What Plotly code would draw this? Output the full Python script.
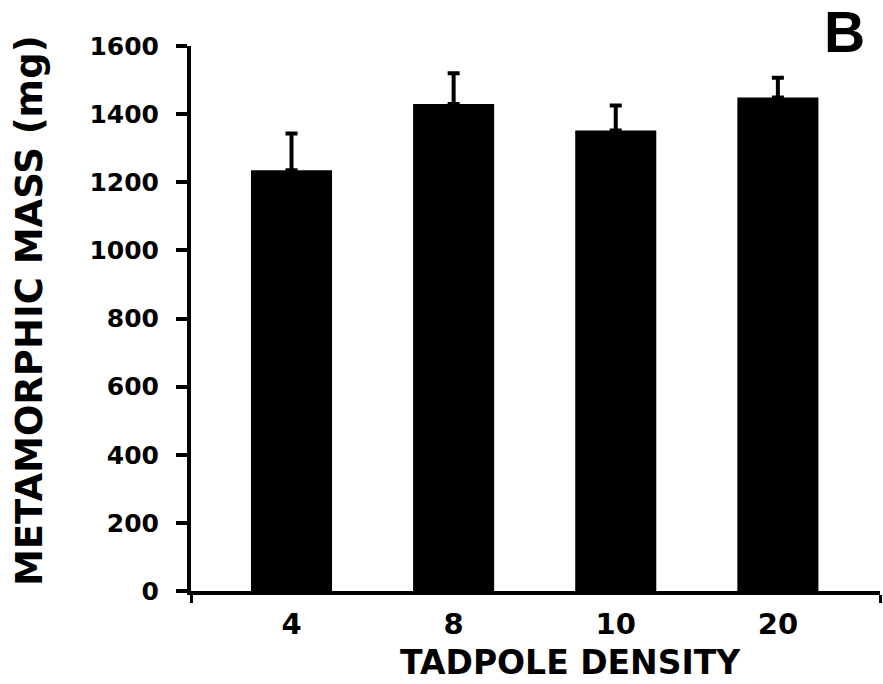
import plotly.graph_objects as go

categories = ["4", "8", "10", "20"]
mass = [1235, 1430, 1352, 1449]
err_up = [108, 90, 73, 58]

positions = list(range(len(categories)))

fig = go.Figure()
fig.add_trace(go.Bar(
    x=positions, y=mass, width=0.5,
    marker=dict(color="black", line=dict(width=0)),
    error_y=dict(type="data", array=err_up, arrayminus=[0]*len(err_up),
                 symmetric=False, color="black", thickness=4, width=6),
))

font = "DejaVu Sans"
xr = [-0.62, 3.63]
fig.update_layout(
    width=883, height=684,
    margin=dict(l=191, r=3, t=46, b=93),
    plot_bgcolor="white", paper_bgcolor="white",
    showlegend=False,
    bargap=0.5,
    xaxis=dict(
        range=xr, tickvals=positions, ticktext=categories,
        showline=True, linecolor="black", linewidth=4,
        ticks="", showgrid=False, zeroline=False,
        tickfont=dict(family=font, size=29, color="black", weight="bold"),
        minor=dict(tickvals=xr, ticks="outside", ticklen=8, tickwidth=3, tickcolor="black"),
        ticklabelstandoff=4,
    ),
    yaxis=dict(
        range=[0, 1600], tickvals=[0, 200, 400, 600, 800, 1000, 1200, 1400, 1600],
        showline=True, linecolor="black", linewidth=4,
        ticks="outside", ticklen=11, tickwidth=4, tickcolor="black",
        showgrid=False, zeroline=False,
        tickfont=dict(family=font, size=25, color="black", weight="bold"),
        ticklabelstandoff=12,
    ),
    annotations=[
        dict(text="TADPOLE DENSITY", x=570, y=662, xref="paper", yref="paper",
             showarrow=False, font=dict(family=font, size=33, color="black", weight="bold")),
        dict(text="METAMORPHIC MASS (mg)", x=29, y=311, textangle=-90, showarrow=False,
             font=dict(family=font, size=37, color="black", weight="bold")),
        dict(text="B", x=844, y=32, showarrow=False,
             font=dict(family="Liberation Sans", size=57, color="black", weight="bold")),
    ],
)
# convert pixel annotation positions to paper coords
W, H = 883, 684
L, R, T, B = 191, 3, 46, 93
pw, ph = W - L - R, H - T - B
for a in fig.layout.annotations:
    px, py = a.x, a.y
    a.x = (px - L) / pw
    a.y = 1 - (py - T) / ph
    a.xref = "paper"
    a.yref = "paper"
    a.xanchor = "center"
    a.yanchor = "middle"

fig.write_html("out.html")
